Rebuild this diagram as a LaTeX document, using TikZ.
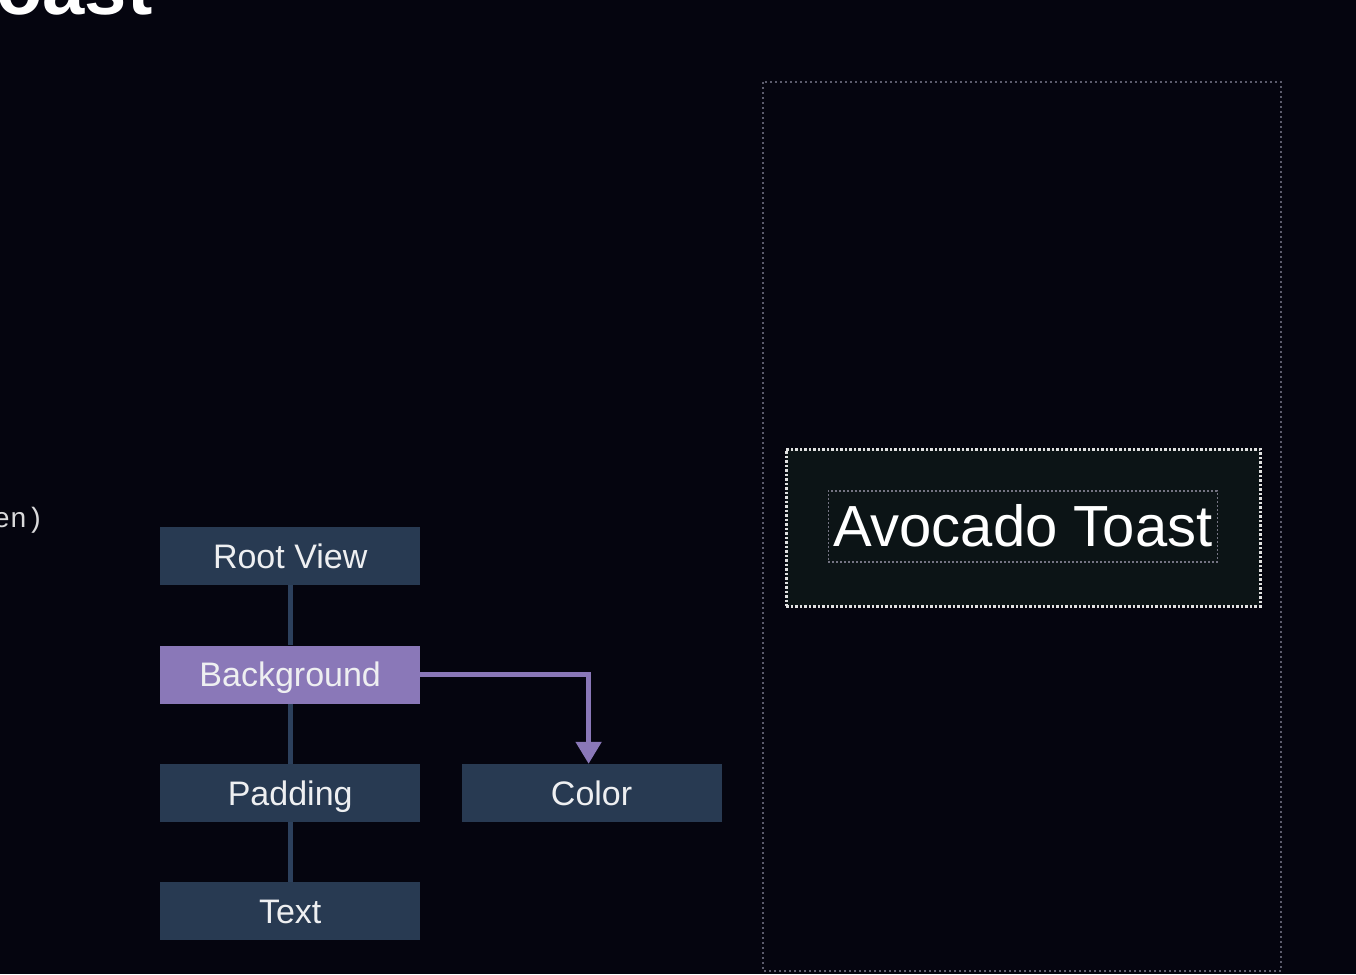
\documentclass[tikz,border=0pt]{standalone}
\usepackage{fontspec}
\setmainfont{Liberation Sans}
\setmonofont{Liberation Mono}
\usetikzlibrary{arrows.meta,positioning}
\definecolor{BgClr}{HTML}{05050F}
\definecolor{NodeClr}{HTML}{283A52}
\definecolor{LinkClr}{HTML}{2C405C}
\definecolor{SelClr}{HTML}{8A78B8}
\definecolor{PaneClr}{HTML}{0C1416}
\definecolor{FrameClr}{HTML}{5C5C6C}

\begin{document}
\begin{tikzpicture}[x=1pt,y=-1pt,
  viewbox/.style={fill=NodeClr,minimum width=260pt,minimum height=58pt,inner sep=0pt,
    text height=24pt,text depth=0pt,
    text=white!92!NodeClr,font=\fontsize{34}{38}\selectfont},
  link/.style={draw=LinkClr,line width=5pt},
  pick/.style={draw=SelClr,line width=5pt,-{Triangle[width=25pt,length=22pt]}}]

% Page and clip.
\useasboundingbox (0,0) rectangle (1356,974);
\clip (0,0) rectangle (1356,974);
\fill[BgClr] (0,0) rectangle (1356,974);

% Bits of code at the left edge.
\node[anchor=base west,inner sep=0pt,text=white,font=\fontsize{76}{80}\selectfont\bfseries] (title) at (-4,15) {oast};
\node[anchor=base east,inner sep=0pt,text=white!85!BgClr,font=\fontsize{28}{32}\selectfont\ttfamily] (code) at (44,527) {en)};

% The view tree.
\node[viewbox,anchor=north west] (root) at (160,527) {Root View};
\node[viewbox,fill=SelClr,below=60pt of root] (bg) {Background};
\node[viewbox,below=60pt of bg] (pad) {Padding};
\node[viewbox,below=60pt of pad] (txt) {Text};
\node[viewbox,right=41pt of pad] (clr) {Color};

\draw[link] (root) -- (bg);
\draw[link] (bg) -- (pad);
\draw[link] (pad) -- (txt);
\draw[pick] (bg.east) -| ([xshift=-3pt]clr.north);

% The preview.
\draw[FrameClr,line width=2pt,dash pattern=on 2pt off 3pt] (763,82) rectangle (1281,971);
\node[fill=PaneClr,draw=white!88!black,line width=2.5pt,dash pattern=on 2.5pt off 2pt,
  minimum width=474pt,minimum height=157pt,anchor=north west] (pane) at (785,448) {};
\node[draw=FrameClr!85!white,line width=1.5pt,dash pattern=on 2pt off 2pt,
  minimum width=389pt,minimum height=71pt,inner sep=0pt,text=white,
  font=\fontsize{58}{60}\selectfont] (label) at ([xshift=-0.5pt,yshift=1.5pt]pane.center) {Avocado Toast};

\end{tikzpicture}
\end{document}
